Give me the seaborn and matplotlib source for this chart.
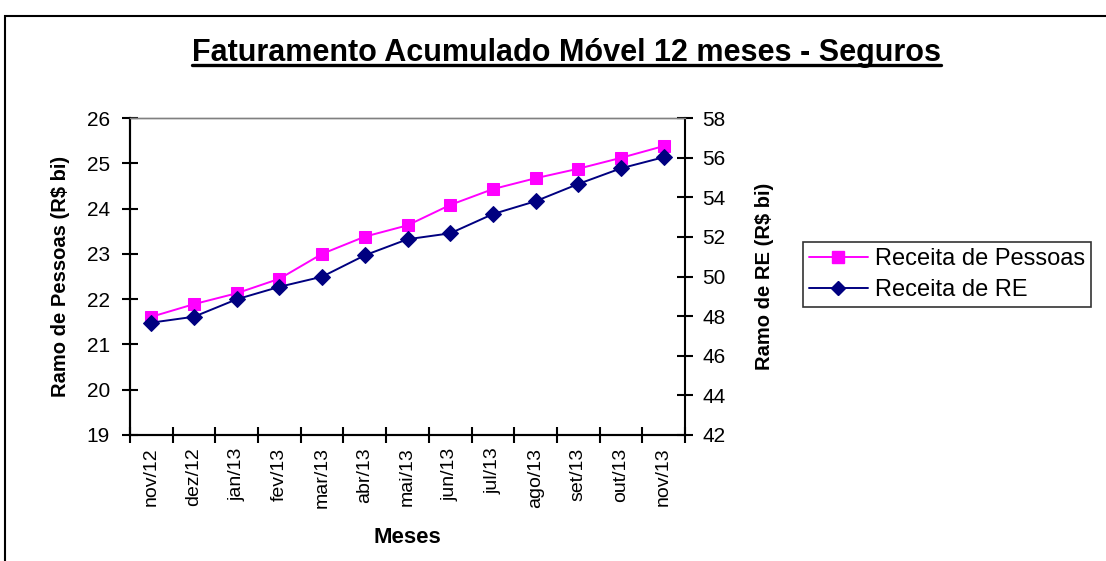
import matplotlib
matplotlib.use("Agg")
import matplotlib.pyplot as plt
from matplotlib.lines import Line2D
from matplotlib.patches import Rectangle
from matplotlib.ticker import FixedLocator, NullFormatter
import seaborn as sns
import pandas as pd
import numpy as np

# Monthly rolling 12-month revenue (R$ bi)
meses = ["nov/12", "dez/12", "jan/13", "fev/13", "mar/13", "abr/13", "mai/13",
         "jun/13", "jul/13", "ago/13", "set/13", "out/13", "nov/13"]
receita_pessoas = [21.61, 21.89, 22.13, 22.45, 23.00, 23.38, 23.63,
                   24.08, 24.43, 24.67, 24.88, 25.12, 25.38]
receita_re = [47.67, 47.97, 48.85, 49.48, 49.99, 51.07, 51.88,
              52.18, 53.15, 53.80, 54.67, 55.46, 56.02]

sns.set_theme(style="white")
plt.rcParams["font.family"] = ["Liberation Sans", "DejaVu Sans"]
plt.rcParams.update({"text.color": "black", "axes.labelcolor": "black",
                     "xtick.color": "black", "ytick.color": "black"})

df = pd.DataFrame({"pos": np.arange(len(meses)), "mes": meses,
                   "pessoas": receita_pessoas, "re": receita_re})

fig = plt.figure(figsize=(11.06, 5.61), dpi=100)
ax = fig.add_axes([130 / 1106, 1 - 435 / 561, 555 / 1106, 317 / 561])
ax2 = ax.twinx()

c_pes = "#FF00FF"
c_re = "#000080"

sns.lineplot(data=df, x="pos", y="pessoas", ax=ax, color=c_pes, marker="s",
             markersize=9, markeredgecolor=c_pes, linewidth=1.4)
sns.lineplot(data=df, x="pos", y="re", ax=ax2, color=c_re, marker="D",
             markersize=8, markeredgecolor=c_re, linewidth=1.4)

ax.set_xlim(-0.5, len(meses) - 0.5)
ax.set_ylim(19, 26)
ax2.set_ylim(42, 58)
ax.set_yticks(range(19, 27))
ax2.set_yticks(range(42, 59, 2))

# category labels at centres, tick marks on boundaries
ax.set_xticks(df["pos"])
ax.set_xticklabels(meses, rotation=90, fontsize=14)
ax.xaxis.set_minor_locator(FixedLocator(np.arange(-0.5, len(meses), 1.0)))
ax.xaxis.set_minor_formatter(NullFormatter())
ax.tick_params(axis="x", which="major", length=0, pad=9)
ax.tick_params(axis="x", which="minor", length=11, width=1.5, direction="inout",
               color="black", bottom=True)
ax.tick_params(axis="y", length=11, width=1.5, direction="inout", color="black",
               labelsize=15, left=True, pad=9)
ax2.tick_params(axis="y", length=11, width=1.5, direction="inout", color="black",
                labelsize=15, right=True, pad=7)

for a in (ax, ax2):
    for side in ("left", "bottom", "right"):
        a.spines[side].set_color("black")
        a.spines[side].set_linewidth(1.5)
    a.spines["top"].set_color("#808080")
    a.spines["top"].set_linewidth(1.0)
ax.spines["right"].set_visible(False)

ax.set_xlabel("Meses", fontsize=16, fontweight="bold", labelpad=13)
ax.set_ylabel("Ramo de Pessoas (R$ bi)", fontsize=14.5, fontweight="bold", labelpad=12)
ax2.set_ylabel("Ramo de RE (R$ bi)", fontsize=14.5, fontweight="bold", labelpad=21)

title = fig.text(566 / 1106, 1 - 61 / 561, "Faturamento Acumulado Móvel 12 meses - Seguros",
                 ha="center", va="baseline", fontsize=22, fontweight="bold")

handles = [Line2D([], [], color=c_pes, marker="s", markersize=8, linewidth=1.4),
           Line2D([], [], color=c_re, marker="D", markersize=7, linewidth=1.4)]
leg = fig.legend(handles, ["Receita de Pessoas", "Receita de RE"],
                 loc="upper left", bbox_to_anchor=(803 / 1106, 1 - 242 / 561),
                 fontsize=17, frameon=True, fancybox=False, handlelength=2.5,
                 borderpad=0.25, labelspacing=0.4, handletextpad=0.3,
                 borderaxespad=0)
leg.get_frame().set_edgecolor("black")
leg.get_frame().set_linewidth(1.2)

# outer chart-area border
fig.patches.append(Rectangle((5 / 1106, -0.1), 1.2, 1.1 - 16 / 561,
                             transform=fig.transFigure, fill=False,
                             edgecolor="black", linewidth=1.5))

# underline the title
fig.canvas.draw()
bb = title.get_window_extent().transformed(fig.transFigure.inverted())
uy = 1 - 65 / 561
fig.add_artist(Line2D([bb.x0, bb.x1], [uy, uy],
                      transform=fig.transFigure, color="black", linewidth=2.4))

fig.savefig("out.png", dpi=100)
